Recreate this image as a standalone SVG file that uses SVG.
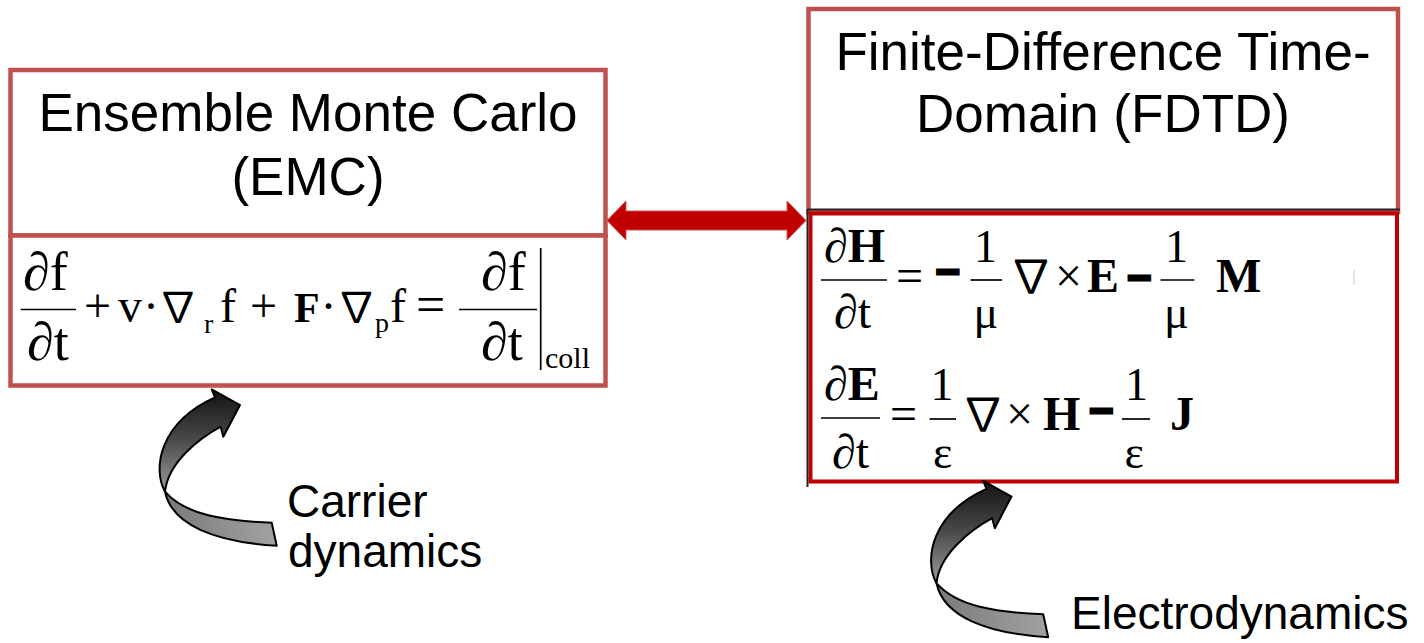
<svg xmlns="http://www.w3.org/2000/svg" xmlns:xlink="http://www.w3.org/1999/xlink" width="1424" height="643" viewBox="0 0 1424 643">
<style>
.box{fill:#fff;stroke:#c0504d;stroke-width:4.5}
.box2{fill:#fff;stroke:#c00000;stroke-width:4}
.title{font-family:"Liberation Sans",Arial,sans-serif;font-size:53px;fill:#000;text-anchor:middle}
.lbl{font-family:"Liberation Sans",Arial,sans-serif;font-size:46px;fill:#000}
.m{font-family:"Liberation Serif","DejaVu Serif",serif;fill:#000}
.nab{font-family:"Noto Sans CJK JP","DejaVu Serif",serif;fill:#000}
.b{font-weight:bold}
.bar{stroke:#000;stroke-width:1.7}
.dash{font-family:"Liberation Serif",serif;font-size:40px;fill:#000;stroke:#000;stroke-width:5}
.curl-up{fill:url(#gUp);stroke:#000;stroke-width:2;stroke-linejoin:round}
.curl-low{fill:url(#gLow);stroke:#000;stroke-width:2;stroke-linejoin:round}
</style>
<defs>
<linearGradient id="gUp" x1="0" y1="0" x2="0" y2="1">
<stop offset="0" stop-color="#111"/>
<stop offset="0.5" stop-color="#4a4a4a"/>
<stop offset="1" stop-color="#9c9c9c"/>
</linearGradient>
<linearGradient id="gLow" x1="0" y1="0" x2="1" y2="0">
<stop offset="0" stop-color="#7a7a7a"/>
<stop offset="1" stop-color="#a2a2a2"/>
</linearGradient>
<g id="curl">
<path class="curl-low" d="M165,491.7 C172,525 215,542 276.7,545.7 L271.7,522.7 C225,521 185,515 165,491.7 Z"/>
<path class="curl-up" d="M215,397.3 L211.7,389.3 L240,405 L223.3,436.7 L220.7,426.7 C200,438 168,462 165,491.7 C152,468 160,422 215,397.3 Z"/>
</g>
</defs>
<rect width="1424" height="643" fill="#fff"/>

<g id="emc-title">
<rect class="box" x="10.5" y="70" width="595" height="165.5"/>
<text class="title" x="308" y="131">Ensemble Monte Carlo</text>
<text class="title" x="308" y="195">(EMC)</text>
</g>

<g id="emc-equation">
<rect class="box" x="10.5" y="235.5" width="595" height="150"/>
<text class="m" x="23" y="290" font-size="54">∂f</text>
<line class="bar" x1="20.7" y1="309.5" x2="76" y2="309.5"/>
<text class="m" x="27" y="359.5" font-size="54">∂t</text>
<text class="m" x="84" y="322" font-size="48">+</text>
<text class="m" x="118" y="322" font-size="48">v</text>
<text class="m" x="143" y="322" font-size="48">·</text>
<text class="nab" x="157" y="322" font-size="42">∇</text>
<text class="m" x="204" y="333" font-size="28">r</text>
<text class="m" x="220" y="322" font-size="48">f</text>
<text class="m" x="250" y="322" font-size="48">+</text>
<text class="m b" x="294" y="322" font-size="42">F</text>
<text class="m" x="320.5" y="322" font-size="48">·</text>
<text class="nab" x="335.5" y="322" font-size="42">∇</text>
<text class="m" x="375" y="331.7" font-size="28">p</text>
<text class="m" x="390" y="322" font-size="48">f</text>
<text class="m" x="416" y="322" font-size="52">=</text>
<text class="m" x="481" y="290" font-size="54">∂f</text>
<line class="bar" x1="459" y1="309.5" x2="537" y2="309.5"/>
<text class="m" x="481" y="360" font-size="54">∂t</text>
<line class="bar" x1="540.7" y1="248" x2="540.7" y2="370"/>
<text class="m" x="545" y="368" font-size="30">coll</text>
</g>

<g id="fdtd-title">
<rect class="box" x="808.5" y="9" width="589.5" height="203"/>
<text class="title" x="1103" y="70">Finite-Difference Time-</text>
<text class="title" x="1103" y="132">Domain (FDTD)</text>
</g>

<g id="fdtd-equation">
<rect class="box2" x="810.5" y="213.5" width="586.5" height="268"/>
<line x1="807" y1="209.5" x2="1400" y2="209.5" stroke="#222" stroke-width="2"/>
<line x1="807.5" y1="209.5" x2="807.5" y2="487" stroke="#222" stroke-width="2"/>
<line x1="1354" y1="270" x2="1354" y2="285" stroke="#ddd" stroke-width="1.5"/>
<text class="m b" x="824" y="262" font-size="48">∂H</text>
<line class="bar" x1="821" y1="280" x2="887" y2="280"/>
<text class="m" x="834" y="328" font-size="48">∂t</text>
<text class="m" x="896" y="292" font-size="48">=</text>
<text class="dash" x="936.5" y="284.5">−</text>
<text class="m" x="974" y="262" font-size="46">1</text>
<line class="bar" x1="970.5" y1="280" x2="1002" y2="280"/>
<text class="m" x="973.5" y="328" font-size="46">μ</text>
<text class="nab" x="1008" y="292" font-size="46">∇</text>
<text class="m" x="1055" y="292" font-size="48">×</text>
<text class="m b" x="1087" y="292" font-size="48">E</text>
<text class="dash" x="1128" y="291">−</text>
<text class="m" x="1165" y="262" font-size="46">1</text>
<line class="bar" x1="1160.5" y1="280" x2="1194.4" y2="280"/>
<text class="m" x="1164" y="328" font-size="46">μ</text>
<text class="m b" x="1216" y="292" font-size="48">M</text>

<text class="m b" x="824" y="400" font-size="48">∂E</text>
<line class="bar" x1="821" y1="418" x2="880" y2="418"/>
<text class="m" x="832" y="468" font-size="48">∂t</text>
<text class="m" x="890" y="430" font-size="48">=</text>
<text class="m" x="930.5" y="400" font-size="46">1</text>
<line class="bar" x1="929.5" y1="419" x2="956" y2="419"/>
<text class="m" x="933" y="468" font-size="46">ε</text>
<text class="nab" x="960" y="430" font-size="46">∇</text>
<text class="m" x="1006" y="430" font-size="48">×</text>
<text class="m b" x="1043" y="430" font-size="48">H</text>
<text class="dash" x="1090" y="423.5">−</text>
<text class="m" x="1125" y="400" font-size="46">1</text>
<line class="bar" x1="1122" y1="419" x2="1150" y2="419"/>
<text class="m" x="1124.5" y="468" font-size="46">ε</text>
<text class="m b" x="1170" y="430" font-size="48">J</text>
</g>

<g id="connectors">
<polygon points="607,220.5 626,201 626,211 787,211 787,201 806,220.5 787,240 787,230 626,230 626,240" fill="#c00000" stroke="#cc5555" stroke-width="1"/>
</g>

<g id="carrier-dynamics">
<use href="#curl" xlink:href="#curl"/>
<text class="lbl" x="287" y="516.7">Carrier</text>
<text class="lbl" x="288" y="566.7">dynamics</text>
</g>

<g id="electrodynamics">
<use href="#curl" xlink:href="#curl" transform="translate(771.5,91.5)"/>
<text class="lbl" x="1071" y="629.3">Electrodynamics</text>
</g>
</svg>
